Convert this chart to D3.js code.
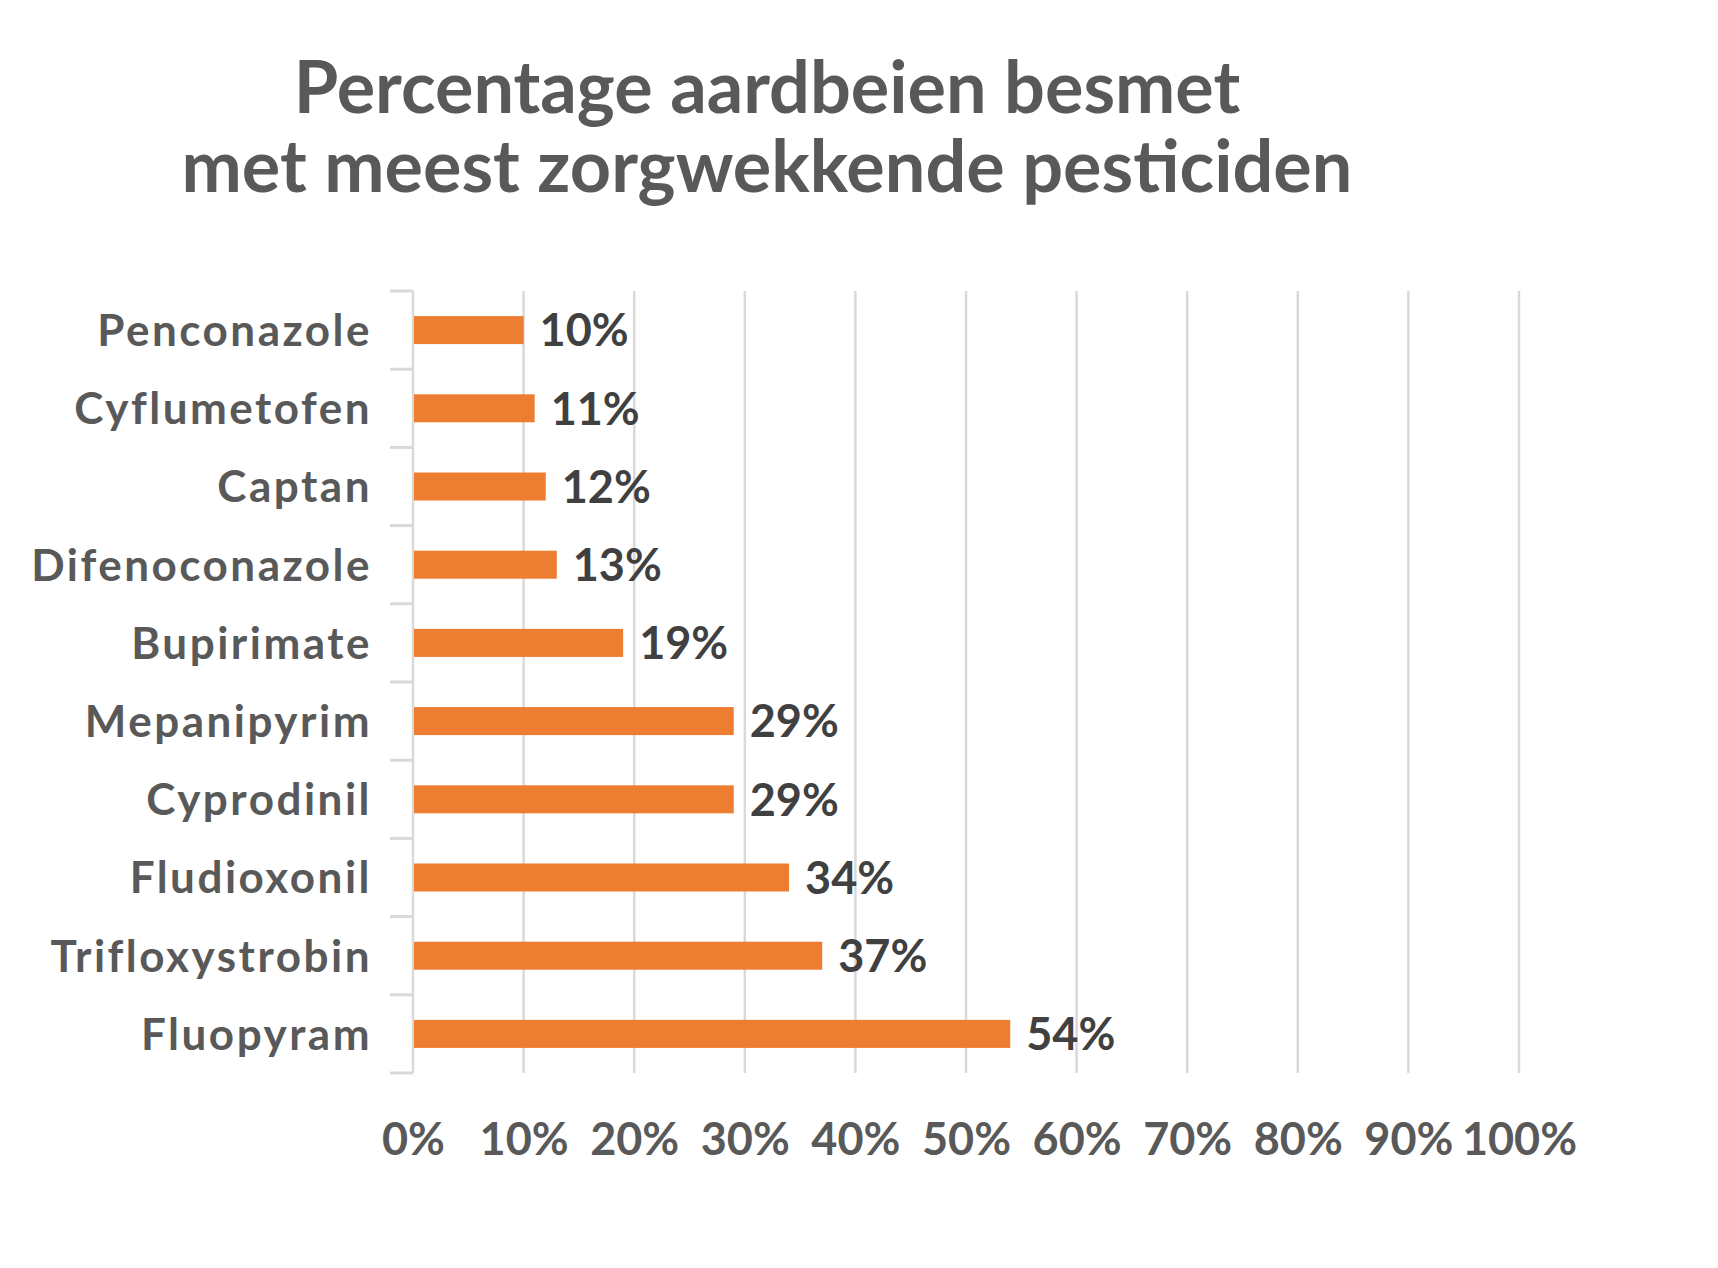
<!DOCTYPE html>
<html>
<head>
<meta charset="utf-8">
<script src="https://cdn.jsdelivr.net/npm/d3@7"></script>
<style>
  body { margin: 0; background: #fff; }
  svg text { font-family: Lato, "Open Sans", sans-serif; font-weight: bold; }
</style>
</head>
<body>
<div id="chart"></div>
<script>
// data
const pesticides = ["Penconazole", "Cyflumetofen", "Captan", "Difenoconazole", "Bupirimate",
                    "Mepanipyrim", "Cyprodinil", "Fludioxonil", "Trifloxystrobin", "Fluopyram"];
const percentages = [10, 11, 12, 13, 19, 29, 29, 34, 37, 54];
const xTicks = [0, 10, 20, 30, 40, 50, 60, 70, 80, 90, 100];
const titleLines = ["Percentage aardbeien besmet", "met meest zorgwekkende pesticiden"];

const W = 1718, H = 1268;
const plot = { left: 413, right: 1519, top: 291, bottom: 1073 };

const svg = d3.select("#chart")
    .append("svg")
    .attr("width", W)
    .attr("height", H);

// scales
const x = d3.scaleLinear()
    .domain([0, 100])
    .range([plot.left, plot.right]);

const y = d3.scaleBand()
    .domain(pesticides)
    .range([plot.top, plot.bottom]);

const barH = 28;

// title
svg.append("g")
    .selectAll("text")
    .data(titleLines)
    .join("text")
    .attr("x", 767)
    .attr("y", (d, i) => 113 + i * 79)
    .attr("text-anchor", "middle")
    .attr("fill", "#595959")
    .style("font-size", "72px")
    .text(d => d);

// gridlines
svg.append("g")
    .selectAll("line")
    .data(xTicks)
    .join("line")
    .attr("x1", d => x(d))
    .attr("x2", d => x(d))
    .attr("y1", plot.top)
    .attr("y2", plot.bottom)
    .attr("stroke", "#d9d9d9")
    .attr("stroke-width", 2.5);

// category axis ticks at band boundaries
const bounds = pesticides.map(d => y(d)).concat([plot.bottom]);
svg.append("g")
    .selectAll("line")
    .data(bounds)
    .join("line")
    .attr("x1", plot.left - 23)
    .attr("x2", plot.left)
    .attr("y1", d => d)
    .attr("y2", d => d)
    .attr("stroke", "#d9d9d9")
    .attr("stroke-width", 3);

// bars
svg.append("g")
    .selectAll("rect")
    .data(pesticides)
    .join("rect")
    .attr("x", x(0) + 1)
    .attr("y", d => y(d) + y.bandwidth() / 2 - barH / 2)
    .attr("width", (d, i) => x(percentages[i]) - x(0) - 1)
    .attr("height", barH)
    .attr("fill", "#ED7D31");

// value labels
svg.append("g")
    .selectAll("text")
    .data(pesticides)
    .join("text")
    .attr("x", (d, i) => x(percentages[i]) + 16)
    .attr("y", d => y(d) + y.bandwidth() / 2)
    .attr("dy", "0.36em")
    .attr("fill", "#404040")
    .style("font-size", "45px")
    .text((d, i) => percentages[i] + "%");

// category labels
svg.append("g")
    .selectAll("text")
    .data(pesticides)
    .join("text")
    .attr("x", 372)
    .attr("y", d => y(d) + y.bandwidth() / 2)
    .attr("dy", "0.36em")
    .attr("text-anchor", "end")
    .attr("fill", "#595959")
    .style("font-size", "44px")
    .style("letter-spacing", "2.5px")
    .text(d => d);

// x axis tick labels
const xAxis = svg.append("g")
    .attr("transform", `translate(0,${plot.bottom})`)
    .call(d3.axisBottom(x).tickValues(xTicks).tickSize(0).tickPadding(50).tickFormat(d => d + "%"));
xAxis.select(".domain").remove();
xAxis.selectAll("text")
    .attr("fill", "#595959")
    .style("font-size", "45px")
    .style("font-family", "Lato, 'Open Sans', sans-serif");
</script>
</body>
</html>
